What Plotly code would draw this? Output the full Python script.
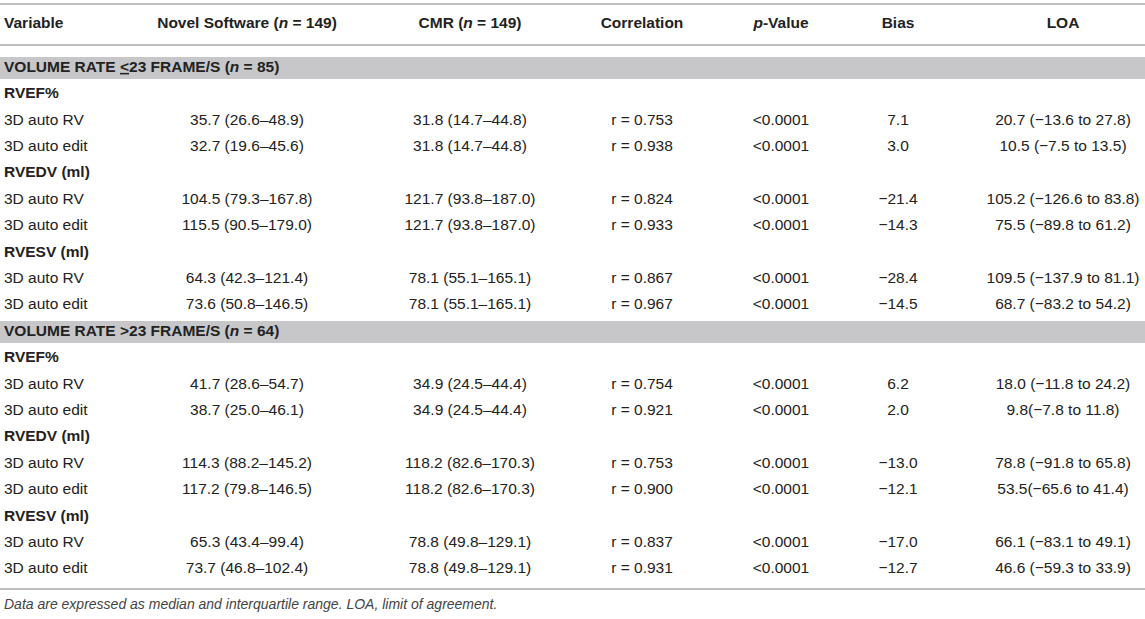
import plotly.graph_objects as go

# table content
col_headers = ["Variable", "Novel Software (<i>n</i> = 149)", "CMR (<i>n</i> = 149)",
               "Correlation", "<i>p</i>-Value", "Bias", "LOA"]
groups = ["VOLUME RATE <u>&lt;</u>23 FRAME/S (<i>n</i> = 85)",
          "VOLUME RATE &gt;23 FRAME/S (<i>n</i> = 64)"]
measures = ["RVEF%", "RVEDV (ml)", "RVESV (ml)"]
methods = ["3D auto RV", "3D auto edit"]

novel = ["35.7 (26.6–48.9)", "32.7 (19.6–45.6)",
         "104.5 (79.3–167.8)", "115.5 (90.5–179.0)",
         "64.3 (42.3–121.4)", "73.6 (50.8–146.5)",
         "41.7 (28.6–54.7)", "38.7 (25.0–46.1)",
         "114.3 (88.2–145.2)", "117.2 (79.8–146.5)",
         "65.3 (43.4–99.4)", "73.7 (46.8–102.4)"]
cmr = ["31.8 (14.7–44.8)", "31.8 (14.7–44.8)",
       "121.7 (93.8–187.0)", "121.7 (93.8–187.0)",
       "78.1 (55.1–165.1)", "78.1 (55.1–165.1)",
       "34.9 (24.5–44.4)", "34.9 (24.5–44.4)",
       "118.2 (82.6–170.3)", "118.2 (82.6–170.3)",
       "78.8 (49.8–129.1)", "78.8 (49.8–129.1)"]
corr = ["0.753", "0.938", "0.824", "0.933", "0.867", "0.967",
        "0.754", "0.921", "0.753", "0.900", "0.837", "0.931"]
pval = ["&lt;0.0001"] * 12
bias = ["7.1", "3.0", "−21.4", "−14.3", "−28.4", "−14.5",
        "6.2", "2.0", "−13.0", "−12.1", "−17.0", "−12.7"]
loa = ["20.7 (−13.6 to 27.8)", "10.5 (−7.5 to 13.5)",
       "105.2 (−126.6 to 83.8)", "75.5 (−89.8 to 61.2)",
       "109.5 (−137.9 to 81.1)", "68.7 (−83.2 to 54.2)",
       "18.0 (−11.8 to 24.2)", "9.8(−7.8 to 11.8)",
       "78.8 (−91.8 to 65.8)", "53.5(−65.6 to 41.4)",
       "66.1 (−83.1 to 49.1)", "46.6 (−59.3 to 33.9)"]
footnote = "Data are expressed as median and interquartile range. LOA, limit of agreement."

# layout in figure pixels (axes map 1:1 onto the figure)
W, H = 1145, 619
col_x = [4, 247, 470, 642, 781, 898, 1063]
header_y = 24
first_y = 68
row_h = 26.4
FONT = "Liberation Sans, Arial, sans-serif"
SIZE = 15.5
TXT = "#222222"
LINE = "#a9a9a9"
BAND = "#c7c7c9"

# walk through the rows
bold_labels, bold_y = [], []
band_y = []
plain_labels, plain_y = [], []
data_y = []
k = 0
for g in groups:
    y = first_y + k * row_h
    bold_labels.append(g)
    bold_y.append(y)
    band_y.append(y)
    k += 1
    for m in measures:
        bold_labels.append(m)
        bold_y.append(first_y + k * row_h)
        k += 1
        for meth in methods:
            y = first_y + k * row_h
            plain_labels.append(meth)
            plain_y.append(y)
            data_y.append(y)
            k += 1

fig = go.Figure()

# header row
fig.add_trace(go.Scatter(
    x=[col_x[0]], y=[header_y], mode="text", text=[col_headers[0]],
    textposition="middle right",
    textfont=dict(family=FONT, size=SIZE, color=TXT, weight="bold")))
fig.add_trace(go.Scatter(
    x=col_x[1:], y=[header_y] * 6, mode="text", text=col_headers[1:],
    textposition="middle center",
    textfont=dict(family=FONT, size=SIZE, color=TXT, weight="bold")))

# group and measure labels
fig.add_trace(go.Scatter(
    x=[col_x[0]] * len(bold_labels), y=bold_y, mode="text", text=bold_labels,
    textposition="middle right",
    textfont=dict(family=FONT, size=SIZE, color=TXT, weight="bold")))

# method labels
fig.add_trace(go.Scatter(
    x=[col_x[0]] * len(plain_labels), y=plain_y, mode="text", text=plain_labels,
    textposition="middle right",
    textfont=dict(family=FONT, size=SIZE, color=TXT)))

# value columns
columns = [novel, cmr, ["r = " + c for c in corr], pval, bias, loa]
for cx, vals in zip(col_x[1:], columns):
    fig.add_trace(go.Scatter(
        x=[cx] * len(vals), y=data_y, mode="text", text=vals,
        textposition="middle center",
        textfont=dict(family=FONT, size=SIZE, color=TXT)))

# footnote
fig.add_trace(go.Scatter(
    x=[col_x[0]], y=[605], mode="text", text=["<i>" + footnote + "</i>"],
    textposition="middle right",
    textfont=dict(family=FONT, size=14, color="#444444")))

shapes = []
for y in band_y:
    shapes.append(dict(type="rect", x0=0, x1=W, y0=y - 11, y1=y + 11,
                       fillcolor=BAND, line_width=0, layer="below"))
for y in [4, 45, 589]:
    shapes.append(dict(type="line", x0=0, x1=W, y0=y, y1=y,
                       line=dict(color=LINE, width=1.5)))

fig.update_layout(
    width=W, height=H,
    margin=dict(l=0, r=0, t=0, b=0),
    paper_bgcolor="white", plot_bgcolor="white",
    showlegend=False,
    hovermode=False,
    shapes=shapes,
    xaxis=dict(range=[0, W], visible=False, fixedrange=True),
    yaxis=dict(range=[H, 0], visible=False, fixedrange=True),
)

# drop the default page margin so the figure sits at the window's corner
fig.write_html("out.html",
               config={"displayModeBar": False, "staticPlot": True},
               post_script="document.body.style.margin='0';"
                           "document.body.style.overflow='hidden';")
